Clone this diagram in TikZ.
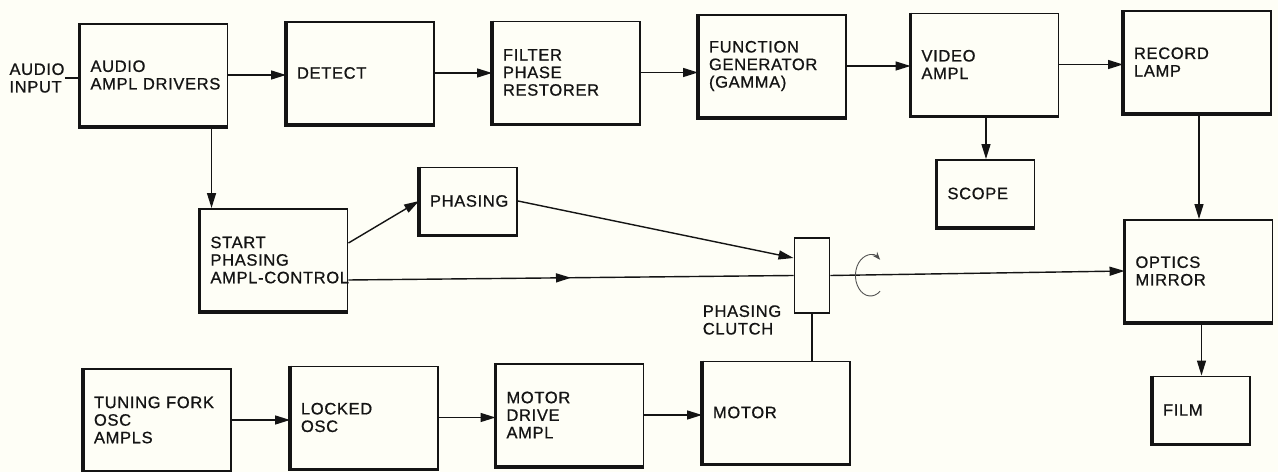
\documentclass[tikz,border=0pt]{standalone}
\usepackage{fontspec}
\newfontfamily\blockfont{Liberation Sans}[LetterSpace=4, FakeBold=0.8]
\usetikzlibrary{arrows.meta, decorations.markings, calc}
\definecolor{paper}{HTML}{FEFEF6}
\definecolor{ink}{HTML}{141414}

\begin{document}
\begin{tikzpicture}[x=1cm, y=1cm,
  >={Triangle[length=0.3cm, width=0.18cm]},
  lbl/.style={inner sep=0pt, align=left, text=ink,
    font=\blockfont\fontsize{9.4}{10}\selectfont},
  blk/.style={lbl, draw=ink, line width=1.1pt},
  bigblk/.style={blk, minimum width=2.94cm, minimum height=2.04cm, text width=2.54cm},
  smallblk/.style={blk, minimum width=1.94cm, minimum height=1.34cm, text width=1.54cm},
  wire/.style={draw=ink, line width=0.8pt},
  flow/.style={wire, ->},
  midflow/.style={wire, postaction={decorate},
    decoration={markings, mark=at position 0.5 with {\arrow{>}}}}]

  %% Page
  \fill[paper] (0,0) rectangle (25.56,9.44);
  \useasboundingbox (0,0) rectangle (25.56,9.44);

  %% Top row: signal chain
  \node[lbl] (ain) at (0.74,7.88) {AUDIO\\INPUT};
  \node[bigblk] (ampl)   at (3.08,7.94)  {AUDIO\\\mbox{AMPL DRIVERS}};
  \node[bigblk] (detect) at (7.21,7.98)  {DETECT};
  \node[bigblk] (filter) at (11.33,7.99) {FILTER\\PHASE\\RESTORER};
  \node[bigblk] (func)   at (15.45,8.12) {FUNCTION\\GENERATOR\\(GAMMA)};
  \node[bigblk] (video)  at (19.70,8.15) {VIDEO\\AMPL};
  \node[bigblk] (record) at (23.95,8.20) {RECORD\\LAMP};

  %% Middle: phasing and optics
  \node[smallblk] (scope)   at (19.72,5.57) {SCOPE};
  \node[smallblk] (phasing) at (9.37,5.42)  {PHASING};
  \node[bigblk]   (start)   at (5.48,4.24)  {START\\PHASING\\\mbox{AMPL-CONTROL}};
  \node[blk, minimum width=0.7cm, minimum height=1.5cm] (clutch) at (16.24,3.93) {};
  \node[lbl, anchor=east] (clabel) at ($(clutch.south west)+(-0.24,-0.12)$) {PHASING\\CLUTCH};
  \node[bigblk]   (optics)  at (23.98,4.02) {OPTICS\\MIRROR};
  \node[smallblk] (film)    at (24.03,1.24) {FILM};

  %% Bottom row: drive
  \node[bigblk] (tuning) at (3.15,1.04)  {\mbox{TUNING FORK}\\OSC\\AMPLS};
  \node[bigblk] (locked) at (7.29,1.09)  {LOCKED\\OSC};
  \node[bigblk] (mdrive) at (11.40,1.14) {MOTOR\\DRIVE\\AMPL};
  \node[bigblk] (motor)  at (15.53,1.19) {MOTOR};

  %% Heavy left and bottom edges
  \foreach \n in {ampl, detect, filter, func, video, record, scope, phasing,
                  start, optics, film, tuning, locked, mdrive, motor}
    \draw[ink, line width=2.2pt] (\n.north west) -- (\n.south west) -- (\n.south east);

  %% Connectors
  \draw[wire] (ain.east) -- (ain.east -| ampl.west);
  \foreach \a/\b in {ampl/detect, detect/filter, filter/func, func/video, video/record,
                     tuning/locked, locked/mdrive, mdrive/motor}
    \draw[flow] (\a.east) -- (\a.east -| \b.west);
  \draw[flow] (video.south -| scope.north) -- (scope.north);
  \draw[flow] (record.south -| optics.north) -- (optics.north);
  \draw[flow] (optics.south -| film.north) -- (film.north);
  \coordinate (startin) at ([xshift=0.24cm]start.north west);
  \draw[flow] (ampl.south -| startin) -- (startin);
  \draw[flow] ([yshift=0.34cm]start.east) -- (phasing.west);
  \draw[flow] (phasing.east) -- ([yshift=0.35cm]clutch.west);
  \draw[midflow] ([yshift=-0.4cm]start.east) -- (clutch.west);
  \draw[flow] (clutch.east) -- (optics.west);
  \draw[wire] (clutch.south) -- (clutch.south |- motor.north);

  %% Rotation mark on the shaft
  \coordinate (spin) at ($(clutch.east)+(0.8,0)$);
  \draw[ink!75, line width=0.5pt, -{Stealth[length=0.16cm, width=0.12cm]}]
    ($(spin)+(-50:0.3 and 0.41)$) arc[start angle=-50, end angle=-310, x radius=0.3, y radius=0.41];

\end{tikzpicture}
\end{document}
